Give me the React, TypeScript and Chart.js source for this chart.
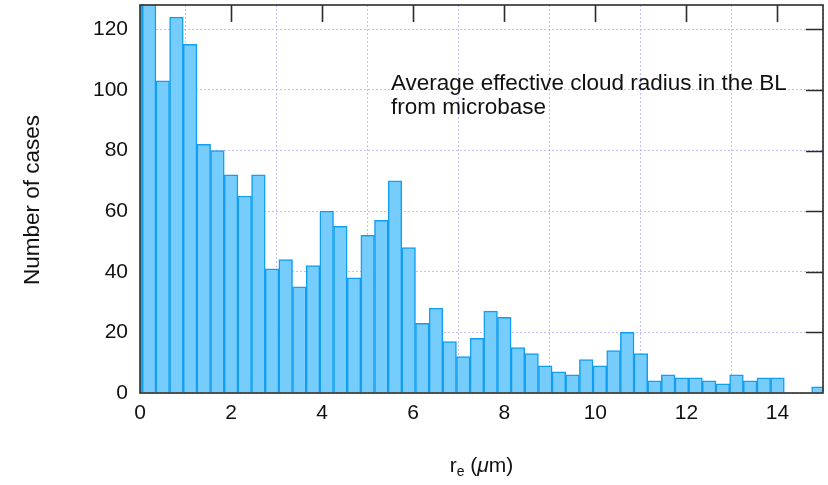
import React, { useEffect, useRef } from 'react';
import { Chart, registerables } from 'chart.js';

Chart.register(...registerables);

// bin centres (bin width 0.3 µm); first entry is the partial bin touching 0
const binCenters = [
  -0.1, 0.2, 0.5, 0.8, 1.1, 1.4, 1.7, 2.0, 2.3, 2.6, 2.9,
  3.2, 3.5, 3.8, 4.1, 4.4, 4.7, 5.0, 5.3, 5.6, 5.9,
  6.2, 6.5, 6.8, 7.1, 7.4, 7.7, 8.0, 8.3, 8.6, 8.9,
  9.2, 9.5, 9.8, 10.1, 10.4, 10.7, 11.0, 11.3, 11.6, 11.9,
  12.2, 12.5, 12.8, 13.1, 13.4, 13.7, 14.0, 14.3, 14.6, 14.9,
];

const counts = [
  140, 140, 103, 124, 115, 82, 80, 72, 65, 72, 41,
  44, 35, 42, 60, 55, 38, 52, 57, 70, 48,
  23, 28, 17, 12, 18, 27, 25, 15, 13, 9,
  7, 6, 11, 9, 14, 20, 13, 4, 6, 5,
  5, 4, 3, 6, 4, 5, 5, 0, 0, 2,
];

const xTickValues = [2, 4, 6, 8, 10, 12, 14];
const yTickValues = [20, 40, 60, 80, 100, 120];

const annotationLines = ['Average effective cloud radius in the BL', 'from microbase'];
const yTitle = 'Number of cases';

const FONT = '"Liberation Sans", Arial, Helvetica, sans-serif';

const framePlugin = {
  id: 'frame',
  afterDraw(chart: any) {
    const ctx = chart.ctx as CanvasRenderingContext2D;
    const { left, right, top, bottom } = chart.chartArea;
    const xs = chart.scales.x;
    const ys = chart.scales.y;
    ctx.save();
    ctx.strokeStyle = '#2b2b2b';
    ctx.lineWidth = 1.6;
    ctx.strokeRect(left, top, right - left, bottom - top);
    ctx.beginPath();
    for (const v of xTickValues) {
      const px = Math.round(xs.getPixelForValue(v)) + 0.5;
      ctx.moveTo(px, top);
      ctx.lineTo(px, top + 17);
    }
    for (const v of yTickValues) {
      const py = Math.round(ys.getPixelForValue(v)) + 0.5;
      ctx.moveTo(right, py);
      ctx.lineTo(right - 17, py);
    }
    ctx.stroke();

    // annotation
    ctx.fillStyle = '#111';
    ctx.font = `22.5px ${FONT}`;
    ctx.textAlign = 'left';
    ctx.textBaseline = 'alphabetic';
    ctx.fillText(annotationLines[0], 391, 90);
    ctx.fillText(annotationLines[1], 391, 114);

    // y title
    ctx.save();
    ctx.translate(33, 200);
    ctx.rotate(-Math.PI / 2);
    ctx.textAlign = 'center';
    ctx.textBaseline = 'middle';
    ctx.font = `22.5px ${FONT}`;
    ctx.fillText(yTitle, 0, 0);
    ctx.restore();

    // x title: r_e (µm)
    const cx = (left + right) / 2;
    const base = 472;
    const parts: [string, string, number][] = [
      ['r', `21px ${FONT}`, 0],
      ['e', `14px ${FONT}`, 4],
      [' (', `21px ${FONT}`, 0],
      ['\u03bc', `italic 21px ${FONT}`, 0],
      ['m)', `21px ${FONT}`, 0],
    ];
    let total = 0;
    for (const [t, f] of parts) {
      ctx.font = f;
      total += ctx.measureText(t).width;
    }
    let x = cx - total / 2;
    ctx.textAlign = 'left';
    ctx.textBaseline = 'alphabetic';
    for (const [t, f, dy] of parts) {
      ctx.font = f;
      ctx.fillText(t, x, base + dy);
      x += ctx.measureText(t).width;
    }
    ctx.restore();
  },
};

export default function App() {
  const ref = useRef<HTMLCanvasElement | null>(null);

  useEffect(() => {
    document.body.style.margin = '0';
    const canvas = ref.current;
    if (!canvas) return;
    const chart = new Chart(canvas, {
      type: 'bar',
      data: {
        datasets: [
          {
            data: binCenters.map((c, i) => ({ x: c, y: counts[i] })),
            backgroundColor: '#76cdfb',
            borderColor: '#129ef2',
            borderWidth: 1.5,
            borderSkipped: 'bottom',
            barPercentage: 1,
            categoryPercentage: 1,
          },
        ],
      },
      options: {
        animation: false,
        responsive: false,
        devicePixelRatio: 1,
        layout: { padding: { left: 0, right: 5, top: 5, bottom: 0 } },
        plugins: {
          legend: { display: false },
          tooltip: { enabled: false },
          title: { display: false },
        },
        scales: {
          x: {
            type: 'linear',
            min: 0,
            max: 15,
            offset: false,
            grid: {
              color: 'rgba(170,170,255,0.75)',
              lineWidth: 1,
              drawTicks: false,
            },
            border: { display: false, dash: [2, 2] },
            ticks: {
              stepSize: 2,
              includeBounds: false,
              padding: 8,
              color: '#111',
              font: { family: FONT, size: 21 },
              maxRotation: 0,
            },
            afterFit(scale: any) {
              scale.height = 92;
              scale.paddingLeft = 0;
              scale.paddingRight = 0;
            },
          },
          y: {
            type: 'linear',
            min: 0,
            max: 128,
            grid: {
              color: 'rgba(170,170,255,0.75)',
              lineWidth: 1,
              drawTicks: false,
            },
            border: { display: false, dash: [2, 2] },
            ticks: {
              stepSize: 20,
              includeBounds: false,
              padding: 12,
              color: '#111',
              font: { family: FONT, size: 21 },
            },
            afterFit(scale: any) {
              scale.width = 140;
              scale.paddingTop = 0;
              scale.paddingBottom = 0;
            },
          },
        },
      },
      plugins: [framePlugin],
    });
    return () => chart.destroy();
  }, []);

  return (
    <div style={{ width: 828, height: 485 }}>
      <canvas ref={ref} width={828} height={485} style={{ display: 'block' }} />
    </div>
  );
}
